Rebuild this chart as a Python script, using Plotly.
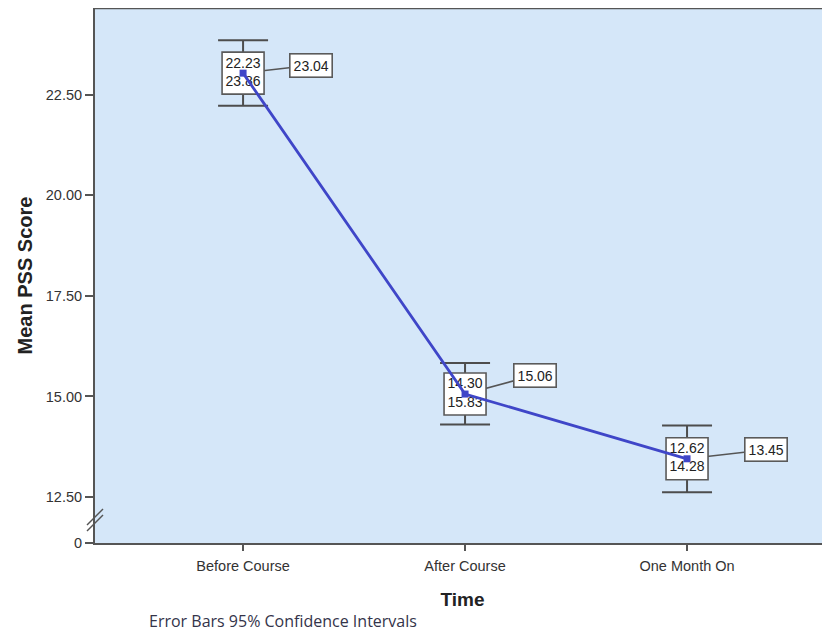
import plotly.graph_objects as go

# ---- data ----
categories = ["Before Course", "After Course", "One Month On"]
means = [23.04, 15.06, 13.45]
ci_lower = [22.23, 14.30, 12.62]
ci_upper = [23.86, 15.83, 14.28]
mean_labels = ["23.04", "15.06", "13.45"]
y_tick_values = [12.5, 15.0, 17.5, 20.0, 22.5]
y_tick_text = ["12.50", "15.00", "17.50", "20.00", "22.50"]
break_tick_text = "0"

# ---- styling / layout ----
Y_RANGE = [11.356, 24.66]
X_RANGE = [-0.667, 2.644]
label_offsets = [(68, 8), (70, 19), (79, 9)]  # pixel offsets of mean label boxes
LINE_BLUE = "#3F46C8"
AXIS_GREY = "#555555"
FONT = "Liberation Sans, Arial, sans-serif"

x = list(range(len(categories)))

fig = go.Figure()

# error bars (under the CI boxes)
fig.add_trace(go.Scatter(
    x=x, y=means, mode="markers",
    marker=dict(size=1, color="rgba(0,0,0,0)"),
    error_y=dict(type="data", symmetric=False,
                 array=[u - m for u, m in zip(ci_upper, means)],
                 arrayminus=[m - l for m, l in zip(means, ci_lower)],
                 color="#4d4d4d", thickness=2, width=25),
    hoverinfo="skip", showlegend=False))

# CI label boxes
fig.add_trace(go.Scatter(
    x=x, y=means, mode="markers",
    marker=dict(symbol="square", size=42, color="white",
                line=dict(color="#5a5a5a", width=1.6)),
    hoverinfo="skip", showlegend=False))

# CI text
fig.add_trace(go.Scatter(
    x=x, y=means, mode="text",
    text=[f"{l:.2f}<br>{u:.2f}" for l, u in zip(ci_lower, ci_upper)],
    textposition="middle center",
    textfont=dict(family=FONT, size=14, color="#222222"),
    hoverinfo="skip", showlegend=False))

# mean line
fig.add_trace(go.Scatter(
    x=x, y=means, mode="lines+markers",
    line=dict(color=LINE_BLUE, width=2.8),
    marker=dict(symbol="square", size=7, color=LINE_BLUE),
    showlegend=False))

shapes = []
annotations = []
for i, (m, lab, (dx, dy)) in enumerate(zip(means, mean_labels, label_offsets)):
    shapes.append(dict(type="line", layer="below",
                       xref="x", yref="y", xsizemode="pixel", ysizemode="pixel",
                       xanchor=i, yanchor=m, x0=0, x1=dx, y0=0, y1=dy,
                       line=dict(color="#555555", width=1.5)))
    annotations.append(dict(x=i, y=m, xref="x", yref="y", text=lab,
                            showarrow=False, xshift=dx, yshift=dy,
                            font=dict(family=FONT, size=14, color="#222222"),
                            bgcolor="white", bordercolor="#5a5a5a",
                            borderwidth=1.6, borderpad=3))

# axis break marks
for off in (-3, 3):
    shapes.append(dict(type="line", xref="paper", yref="y",
                       xsizemode="pixel", ysizemode="pixel",
                       xanchor=0, yanchor=11.93, x0=-8, x1=8, y0=-8 + off, y1=8 + off,
                       line=dict(color="#555555", width=1.5)))

# top border line
shapes.append(dict(type="line", xref="paper", yref="paper", x0=0, x1=1, y0=1, y1=1,
                   line=dict(color=AXIS_GREY, width=2.5)))

annotations.append(dict(x=0.0707, y=-0.146, xref="paper", yref="paper",
                        xanchor="left", yanchor="middle",
                        text="Error Bars 95% Confidence Intervals", showarrow=False,
                        font=dict(family="Open Sans, Liberation Sans, sans-serif",
                                  size=16, color="#34344a")))

# page body has an 8px margin, so the figure is sized to end at the window edge
fig.update_layout(
    width=822, height=623,
    margin=dict(l=87, r=0, t=0, b=88, autoexpand=False),
    paper_bgcolor="white",
    plot_bgcolor="#D5E7F9",
    shapes=shapes,
    annotations=annotations,
    font=dict(family=FONT, color="#333333"),
    xaxis=dict(range=X_RANGE, tickvals=x, ticktext=categories,
               showgrid=False, zeroline=False, automargin=False,
               showline=True, linecolor=AXIS_GREY, linewidth=2,
               ticks="outside", ticklen=6, tickwidth=1.5, tickcolor=AXIS_GREY,
               ticklabelstandoff=3,
               tickfont=dict(size=14.5, color="#333333"),
               title=dict(text="<b>Time</b>", font=dict(size=19, color="#222222"),
                          standoff=19)),
    yaxis=dict(range=Y_RANGE,
               tickvals=[Y_RANGE[0] + 0.01] + y_tick_values,
               ticktext=[break_tick_text] + y_tick_text,
               showgrid=False, zeroline=False, automargin=False,
               showline=True, linecolor=AXIS_GREY, linewidth=2,
               ticks="outside", ticklen=8, tickwidth=1.5, tickcolor=AXIS_GREY,
               tickfont=dict(size=14.5, color="#333333"),
               title=dict(text="<b>Mean PSS Score</b>", font=dict(size=20, color="#222222"),
                          standoff=8)),
)

fig.write_html("out.html")
